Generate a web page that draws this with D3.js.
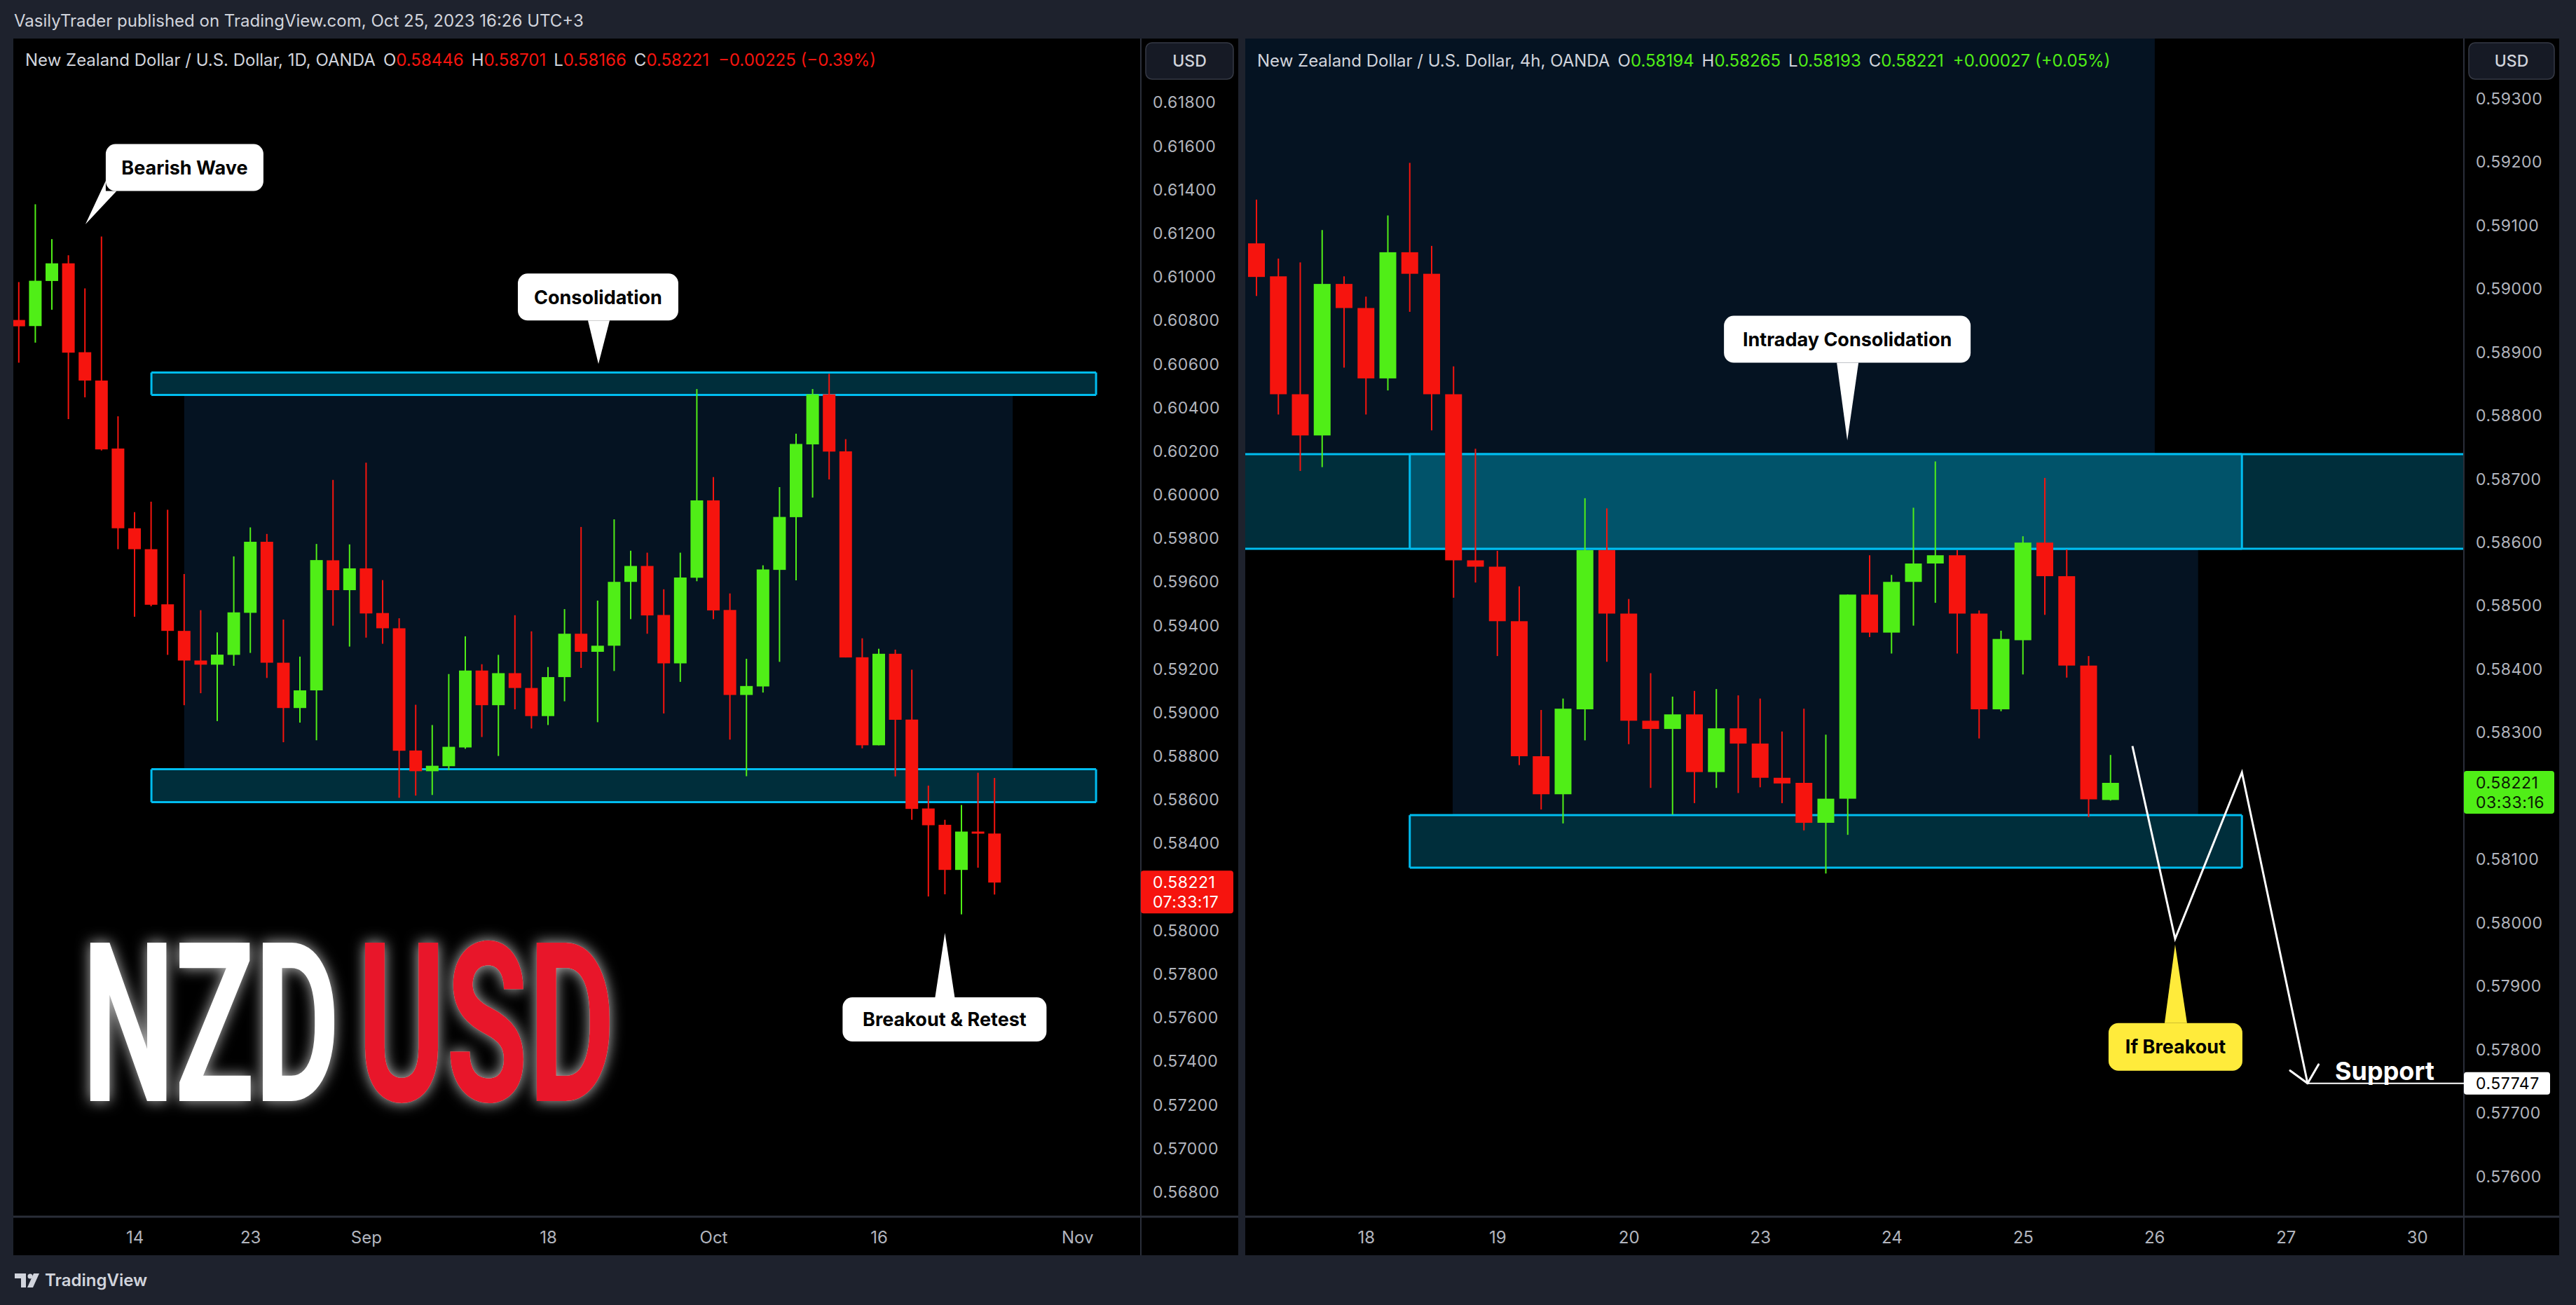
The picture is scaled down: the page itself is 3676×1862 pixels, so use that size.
<!DOCTYPE html>
<html><head><meta charset="utf-8">
<script src="https://cdn.jsdelivr.net/npm/d3@7/dist/d3.min.js"></script>
<style>html,body{margin:0;padding:0;background:#1e222d;overflow:hidden}svg{display:block}</style>
</head><body>
<svg id="chart" width="3676" height="1862"></svg>
<script>
// ================= DATA =================
// Daily NZD/USD (OANDA), Aug 3 - Oct 25 2023
const dailyDates = ["Aug 3","Aug 4","Aug 7","Aug 8","Aug 9","Aug 10","Aug 11","Aug 14","Aug 15","Aug 16","Aug 17","Aug 18","Aug 21","Aug 22","Aug 23","Aug 24","Aug 25","Aug 28","Aug 29","Aug 30","Aug 31","Sep 1","Sep 4","Sep 5","Sep 6","Sep 7","Sep 8","Sep 11","Sep 12","Sep 13","Sep 14","Sep 15","Sep 18","Sep 19","Sep 20","Sep 21","Sep 22","Sep 25","Sep 26","Sep 27","Sep 28","Sep 29","Oct 2","Oct 3","Oct 4","Oct 5","Oct 6","Oct 9","Oct 10","Oct 11","Oct 12","Oct 13","Oct 16","Oct 17","Oct 18","Oct 19","Oct 20","Oct 23","Oct 24","Oct 25"];
const dailyOpen  = [0.60803,0.60775,0.60982,0.61063,0.60655,0.60525,0.60213,0.59847,0.59751,0.59498,0.59376,0.59240,0.59221,0.59266,0.59459,0.59785,0.59230,0.59022,0.59103,0.59700,0.59563,0.59663,0.59458,0.59388,0.58827,0.58732,0.58755,0.58841,0.59194,0.59035,0.59182,0.59114,0.58985,0.59164,0.59363,0.59280,0.59308,0.59601,0.59674,0.59449,0.59227,0.59620,0.59975,0.59472,0.59082,0.59121,0.59656,0.59898,0.60232,0.60462,0.60200,0.59255,0.58851,0.59271,0.58969,0.58561,0.58486,0.58279,0.58455,0.58446];
const dailyHigh  = [0.60977,0.61334,0.61174,0.61100,0.60948,0.61186,0.60361,0.59921,0.59969,0.59932,0.59637,0.59471,0.59369,0.59718,0.59851,0.59821,0.59428,0.59258,0.59775,0.60069,0.59773,0.60148,0.59609,0.59434,0.59037,0.58944,0.59178,0.59351,0.59223,0.59266,0.59448,0.59374,0.59210,0.59476,0.59853,0.59515,0.59888,0.59744,0.59735,0.59567,0.59735,0.60486,0.60082,0.59548,0.59248,0.59677,0.60036,0.60281,0.60486,0.60556,0.60256,0.59342,0.59294,0.59290,0.59198,0.58666,0.58509,0.58577,0.58725,0.58701];
const dailyLow   = [0.60607,0.60699,0.60850,0.60348,0.60448,0.60204,0.59751,0.59441,0.59489,0.59266,0.59035,0.59090,0.58962,0.59216,0.59275,0.59160,0.58865,0.58955,0.58874,0.59400,0.59304,0.59345,0.59317,0.58610,0.58620,0.58623,0.58737,0.58835,0.58889,0.58802,0.59016,0.58928,0.58944,0.59053,0.59206,0.58957,0.59192,0.59430,0.59363,0.58997,0.59142,0.59604,0.59430,0.58877,0.58709,0.59093,0.59234,0.59608,0.59988,0.60071,0.59254,0.58837,0.58851,0.58708,0.58509,0.58157,0.58167,0.58075,0.58289,0.58166];
const dailyClose = [0.60774,0.60983,0.61063,0.60653,0.60525,0.60209,0.59847,0.59751,0.59496,0.59376,0.59240,0.59221,0.59267,0.59461,0.59785,0.59230,0.59022,0.59103,0.59701,0.59563,0.59663,0.59456,0.59388,0.58826,0.58732,0.58757,0.58844,0.59194,0.59035,0.59182,0.59114,0.58985,0.59164,0.59363,0.59280,0.59308,0.59601,0.59674,0.59447,0.59227,0.59621,0.59975,0.59470,0.59082,0.59123,0.59658,0.59899,0.60234,0.60462,0.60199,0.59254,0.58851,0.59271,0.58968,0.58559,0.58484,0.58279,0.58455,0.58446,0.58221];
const dailyTickIndex  = [7,14,21,32,42,52,64];
const dailyTickLabels = ["14","23","Sep","18","Oct","16","Nov"];
const dailyPriceTicks = d3.range(284,310).map(k => k*0.002);

// 4h NZD/USD (OANDA), Oct 17 04:00 - Oct 25 16:00 (UTC+3)
const h4Times = ["17 04h","17 08h","17 12h","17 16h","17 20h","18 00h","18 04h","18 08h","18 12h","18 16h","18 20h","19 00h","19 04h","19 08h","19 12h","19 16h","19 20h","20 00h","20 04h","20 08h","20 12h","20 16h","20 20h","23 00h","23 04h","23 08h","23 12h","23 16h","23 20h","24 00h","24 04h","24 08h","24 12h","24 16h","24 20h","25 00h","25 04h","25 08h","25 12h","25 16h"];
const h4Open  = [0.59072,0.59020,0.58834,0.58769,0.59008,0.58970,0.58859,0.59058,0.59024,0.58834,0.58572,0.58562,0.58476,0.58263,0.58203,0.58337,0.58588,0.58488,0.58319,0.58306,0.58329,0.58238,0.58307,0.58283,0.58229,0.58221,0.58158,0.58196,0.58518,0.58458,0.58538,0.58567,0.58580,0.58488,0.58337,0.58446,0.58600,0.58547,0.58406,0.58194];
const h4High  = [0.59141,0.59048,0.59042,0.59093,0.59020,0.58988,0.59116,0.59199,0.59068,0.58878,0.58748,0.58587,0.58531,0.58336,0.58354,0.58670,0.58654,0.58511,0.58394,0.58357,0.58366,0.58369,0.58359,0.58354,0.58302,0.58338,0.58297,0.58518,0.58580,0.58549,0.58655,0.58728,0.58588,0.58493,0.58461,0.58610,0.58702,0.58589,0.58421,0.58265];
const h4Low   = [0.58989,0.58802,0.58713,0.58719,0.58876,0.58802,0.58840,0.58964,0.58777,0.58513,0.58537,0.58421,0.58249,0.58179,0.58157,0.58288,0.58412,0.58282,0.58213,0.58171,0.58189,0.58213,0.58205,0.58214,0.58189,0.58146,0.58078,0.58139,0.58451,0.58425,0.58469,0.58505,0.58425,0.58291,0.58334,0.58392,0.58486,0.58387,0.58167,0.58193];
const h4Close = [0.59019,0.58834,0.58769,0.59008,0.58970,0.58859,0.59058,0.59024,0.58834,0.58572,0.58562,0.58476,0.58263,0.58203,0.58338,0.58588,0.58488,0.58319,0.58306,0.58329,0.58238,0.58307,0.58283,0.58229,0.58220,0.58158,0.58196,0.58518,0.58458,0.58538,0.58567,0.58580,0.58488,0.58337,0.58448,0.58600,0.58547,0.58406,0.58195,0.58221];
const h4TickIndex  = [5,11,17,23,29,35,41,47,53];
const h4TickLabels = ["18","19","20","23","24","25","26","27","30"];
const h4PriceTicks = d3.range(576,594).map(k => k/1000);

// ================= STYLE / LAYOUT =================
const FONT = 'Inter, "Noto Sans", Roboto, sans-serif';
const RED = '#f6140e', GREEN = '#50ee17', CYAN = '#00bdf0';
const BOXFILL = '#002e3b', BOXFILL2 = '#01536a', NAVY = '#051322';
const AXISTXT = '#b2b5be', BORDER = '#2a2e39', BG = '#1e222d';

const LP = {x0:19, x1:1628, ax1:1767, y0:55, y1:1736, yb:1791};
const RP = {x0:1777, x1:3516, ax1:3652, y0:55, y1:1736, yb:1791};

const svg = d3.select('#chart');
const defs = svg.append('defs');
svg.append('rect').attr('width',3676).attr('height',1862).attr('fill',BG);

// scales
const xL = d3.scaleLinear().domain([7,64]).range([192,1537.2]);
const yL = d3.scaleLinear().domain([0.568,0.618]).range([1701,146.6]);
const xR = d3.scaleLinear().domain([0,53]).range([1793,3449.25]);
const yR = d3.scaleLinear().domain([0.576,0.593]).range([1678.7,141]);

function panel(P, id){
  svg.append('rect').attr('x',P.x0).attr('y',P.y0).attr('width',P.ax1-P.x0).attr('height',P.yb-P.y0).attr('fill','#000');
  defs.append('clipPath').attr('id',id).append('rect')
    .attr('x',P.x0).attr('y',P.y0).attr('width',P.x1-P.x0).attr('height',P.y1-P.y0);
}
panel(LP,'clipL'); panel(RP,'clipR');

const gL = svg.append('g').attr('clip-path','url(#clipL)');
const gR = svg.append('g').attr('clip-path','url(#clipR)');

function zone(g, x, y, i0, i1, p0, p1, fill, stroke, sides){
  const X0 = x(i0), X1 = x(i1), Y0 = y(p0), Y1 = y(p1);
  g.append('rect').attr('x',Math.min(X0,X1)).attr('y',Math.min(Y0,Y1))
    .attr('width',Math.abs(X1-X0)).attr('height',Math.abs(Y1-Y0)).attr('fill',fill);
  if(stroke){
    const t=Math.min(Y0,Y1), b=Math.max(Y0,Y1), l=Math.min(X0,X1), r=Math.max(X0,X1);
    const segs=[];
    if(sides.includes('t')) segs.push([l,t,r,t]);
    if(sides.includes('b')) segs.push([l,b,r,b]);
    if(sides.includes('l')) segs.push([l,t,l,b]);
    if(sides.includes('r')) segs.push([r,t,r,b]);
    segs.forEach(s=>g.append('line').attr('x1',s[0]).attr('y1',s[1]).attr('x2',s[2]).attr('y2',s[3])
      .attr('stroke',stroke).attr('stroke-width',3));
  }
}

// ----- left zones -----
zone(gL,xL,yL,10.0,60.1,0.60459,0.58741,NAVY);
zone(gL,xL,yL,8.02,65.14,0.60562,0.60459,BOXFILL,CYAN,'tblr');
zone(gL,xL,yL,8.02,65.14,0.58741,0.58590,BOXFILL,CYAN,'tblr');

// ----- right zones -----
zone(gR,xR,yR,-2,41.02,0.5950,0.587395,NAVY);
zone(gR,xR,yR,8.96,43.0,0.585902,0.58170,NAVY);
zone(gR,xR,yR,-2,60,0.587395,0.585902,BOXFILL,CYAN,'tb');
zone(gR,xR,yR,7,45,0.587395,0.585902,BOXFILL2,CYAN,'tblr');
zone(gR,xR,yR,7,45,0.58170,0.580872,BOXFILL,CYAN,'tblr');

// ----- candles -----
function candles(g, x, y, O, Hh, Lw, C, bw){
  const data = O.map((o,i)=>({i,o,h:Hh[i],l:Lw[i],c:C[i]}));
  const sel = g.append('g').selectAll('g').data(data).join('g');
  sel.append('rect').attr('x',d=>x(d.i)-1).attr('width',2)
    .attr('y',d=>y(d.h)).attr('height',d=>y(d.l)-y(d.h))
    .attr('fill',d=>d.c>=d.o?GREEN:RED);
  sel.append('rect').attr('x',d=>x(d.i)-bw/2).attr('width',bw)
    .attr('y',d=>y(Math.max(d.o,d.c))).attr('height',d=>Math.max(3,Math.abs(y(d.o)-y(d.c))))
    .attr('fill',d=>d.c>=d.o?GREEN:RED);
}
candles(gL,xL,yL,dailyOpen,dailyHigh,dailyLow,dailyClose,18);
candles(gR,xR,yR,h4Open,h4High,h4Low,h4Close,24);

// ----- axes -----
function priceAxis(P, y, ticks, hideNear){
  const shown = ticks.filter(t => Math.abs(y(t) - y(hideNear)) > 22);
  const g = svg.append('g').attr('transform',`translate(${P.x1},0)`)
    .call(d3.axisRight(y).tickValues(shown).tickFormat(d3.format('.5f')).tickSize(0).tickPadding(17));
  g.select('.domain').remove();
  g.selectAll('text').attr('fill',AXISTXT).attr('font-size',23).attr('font-family',FONT).attr('letter-spacing','0.5px');
}
priceAxis(LP,yL,dailyPriceTicks,dailyClose[dailyClose.length-1]);
priceAxis(RP,yR,h4PriceTicks,h4Close[h4Close.length-1]);

function timeAxis(P, x, idx, labels){
  const g = svg.append('g').attr('transform',`translate(0,${P.y1})`)
    .call(d3.axisBottom(x).tickValues(idx).tickFormat((d,i)=>labels[i]).tickSize(0).tickPadding(21));
  g.select('.domain').remove();
  g.selectAll('text').attr('fill',AXISTXT).attr('font-size',24).attr('font-family',FONT);
}
timeAxis(LP,xL,dailyTickIndex,dailyTickLabels);
timeAxis(RP,xR,h4TickIndex,h4TickLabels);

// separators
[LP,RP].forEach(P=>{
  svg.append('line').attr('x1',P.x0).attr('x2',P.ax1).attr('y1',P.y1).attr('y2',P.y1).attr('stroke',BORDER).attr('stroke-width',3);
  svg.append('line').attr('x1',P.x1).attr('x2',P.x1).attr('y1',P.y0).attr('y2',P.yb).attr('stroke',BORDER).attr('stroke-width',2);
  // USD button
  svg.append('rect').attr('x',P.x1+7).attr('y',61).attr('width',P.ax1-P.x1-14).attr('height',52).attr('rx',9)
    .attr('fill','#161a25').attr('stroke','#363a45').attr('stroke-width',1.5);
  svg.append('text').attr('x',(P.x1+P.ax1)/2).attr('y',95).attr('text-anchor','middle')
    .attr('fill','#d1d4dc').attr('font-size',23).attr('font-family',FONT).attr('font-weight',500).text('USD');
});

// ----- price labels -----
function priceLabel(P, y, price, lines, fill, color){
  const yy = y(price);
  svg.append('rect').attr('x',P.x1).attr('y',yy-17).attr('width',P.ax1-P.x1-7).attr('height',61)
    .attr('rx',4).attr('fill',fill);
  lines.forEach((t,k)=>svg.append('text').attr('x',P.x1+17).attr('y',yy+8+k*28)
    .attr('fill',color).attr('font-size',23).attr('font-family',FONT).attr('letter-spacing','0.5px').text(t));
}
priceLabel(LP,yL,dailyClose[dailyClose.length-1],['0.58221','07:33:17'],RED,'#ffffff');
priceLabel(RP,yR,h4Close[h4Close.length-1],['0.58221','03:33:16'],GREEN,'#0b1a05');

// ----- callouts -----
function callout(g, tx, ty, box, tail, text, fill, fs){
  const pts = tail.map(p=>[tx+p[0],ty+p[1]]);
  g.append('path').attr('d','M'+tx+','+ty+'L'+pts.map(p=>p.join(',')).join('L')+'Z').attr('fill',fill);
  g.append('rect').attr('x',tx+box[0]).attr('y',ty+box[2]).attr('width',box[1]-box[0]).attr('height',box[3]-box[2])
    .attr('rx',14).attr('fill',fill);
  g.append('text').attr('x',tx+(box[0]+box[1])/2).attr('y',ty+(box[2]+box[3])/2).attr('dy','0.36em')
    .attr('text-anchor','middle').attr('font-family',FONT).attr('font-weight',700).attr('font-size',fs)
    .attr('fill','#000').text(text);
}
const gA = svg.append('g');
callout(gA, xL(4.03), yL(0.61242), [29,254,-114.5,-47.5], [[29,-62],[29,-47.5],[44.5,-47.5]], 'Bearish Wave', '#ffffff', 27);
callout(gA, xL(35.05), yL(0.60601), [-115,114,-129,-62], [[-15,-62],[16,-62]], 'Consolidation', '#ffffff', 27);
callout(gA, xL(56.0), yL(0.57990), [-146,145,92,155], [[-14,92],[14,92]], 'Breakout & Retest', '#ffffff', 27);
callout(gA, xR(26.98), yR(0.58761), [-176,176,-178,-111], [[-15,-111],[16,-111]], 'Intraday Consolidation', '#ffffff', 27);
callout(gA, xR(41.95), yR(0.57966), [-95,96,112,180], [[-15,112],[17,112]], 'If Breakout', '#ffeb3b', 27);

// ----- zigzag projection -----
const zz = [[40,0.58279],[41.95,0.57975],[45,0.582375],[48,0.57747]];
const zzP = zz.map(d=>[xR(d[0]),yR(d[1])]);
gA.append('path').attr('d',d3.line()(zzP)).attr('fill','none').attr('stroke','#fff').attr('stroke-width',3).attr('stroke-linejoin','miter');
const E = zzP[3], Pp = zzP[2];
const len = Math.hypot(E[0]-Pp[0],E[1]-Pp[1]);
const bx = (Pp[0]-E[0])/len, by = (Pp[1]-E[1])/len;
[-42,42].forEach(a=>{
  const r=a*Math.PI/180;
  const vx = bx*Math.cos(r)-by*Math.sin(r), vy = bx*Math.sin(r)+by*Math.cos(r);
  gA.append('line').attr('x1',E[0]).attr('y1',E[1]).attr('x2',E[0]+vx*31).attr('y2',E[1]+vy*31)
    .attr('stroke','#fff').attr('stroke-width',3).attr('stroke-linecap','round');
});
// support line
const supportPrice = 0.57747;
gA.append('line').attr('x1',xR(48)).attr('x2',RP.x1).attr('y1',yR(supportPrice)).attr('y2',yR(supportPrice)).attr('stroke','#fff').attr('stroke-width',2);
gA.append('text').attr('x',xR(48)+39).attr('y',yR(supportPrice)-5).attr('fill','#fff').attr('font-family',FONT)
  .attr('font-weight',700).attr('font-size',36).text('Support');
svg.append('rect').attr('x',RP.x1).attr('y',yR(supportPrice)-16).attr('width',123).attr('height',32).attr('rx',4).attr('fill','#fff');
svg.append('text').attr('x',RP.x1+17).attr('y',yR(supportPrice)+8).attr('fill','#000').attr('font-size',23)
  .attr('font-family',FONT).attr('letter-spacing','0.5px').text(d3.format('.5f')(supportPrice));

// ----- NZDUSD big text -----
const glow = defs.append('filter').attr('id','glow').attr('x','-30%').attr('y','-30%').attr('width','160%').attr('height','160%');
glow.append('feGaussianBlur').attr('in','SourceAlpha').attr('stdDeviation',10).attr('result','b');
glow.append('feFlood').attr('flood-color','#ffffff').attr('flood-opacity',0.75);
glow.append('feComposite').attr('in2','b').attr('operator','in').attr('result','g');
const fm = glow.append('feMerge');
fm.append('feMergeNode').attr('in','g');
fm.append('feMergeNode').attr('in','SourceGraphic');
const big = svg.append('g').attr('filter','url(#glow)');
function bigWord(x, word, color, targetW){
  const t = big.append('text').attr('font-family','Roboto, sans-serif').attr('font-weight',700)
    .attr('font-size',318).attr('fill',color).text(word);
  const w = t.node().getComputedTextLength() || targetW;
  t.attr('transform',`translate(${x},1571) scale(${targetW/w},1)`);
}
bigWord(117,'NZD','#ffffff',368);
bigWord(510,'USD','#e8192c',368);

// ----- titles & header -----
svg.append('text').attr('x',20).attr('y',38).attr('fill','#d1d4dc').attr('font-size',24).attr('font-family',FONT)
  .text('VasilyTrader published on TradingView.com, Oct 25, 2023 16:26 UTC+3');
function title(x, y, name, vals, chg, col){
  const t = svg.append('text').attr('x',x).attr('y',y).attr('font-size',24).attr('font-family',FONT)
    .attr('fill','#d1d4dc');
  t.append('tspan').text(name);
  ['O','H','L','C'].forEach((k,i)=>{
    t.append('tspan').attr('dx',i===0?12:11).attr('fill','#d1d4dc').text(k);
    t.append('tspan').attr('fill',col).text(d3.format('.5f')(vals[i]));
  });
  t.append('tspan').attr('dx',13).attr('fill',col).text(chg);
}
const nD = dailyOpen.length-1, nH = h4Open.length-1;
title(36,94,'New Zealand Dollar / U.S. Dollar, 1D, OANDA',[dailyOpen[nD],dailyHigh[nD],dailyLow[nD],dailyClose[nD]],'\u22120.00225 (\u22120.39%)',RED);
title(1794,95,'New Zealand Dollar / U.S. Dollar, 4h, OANDA',[h4Open[nH],h4High[nH],h4Low[nH],h4Close[nH]],'+0.00027 (+0.05%)',GREEN);

// ----- footer -----
const lg = svg.append('g').attr('fill','#d1d4dc');
lg.append('path').attr('d','M21,1817 h16 v20 h-7 v-13 h-9 z');
lg.append('circle').attr('cx',43).attr('cy',1821).attr('r',3.5);
lg.append('path').attr('d','M48,1817 h8 l-9,20 h-8 z');
svg.append('text').attr('x',64).attr('y',1835).attr('fill','#d1d4dc').attr('font-size',24).attr('font-weight',600)
  .attr('font-family',FONT).text('TradingView');
</script>
</body></html>
